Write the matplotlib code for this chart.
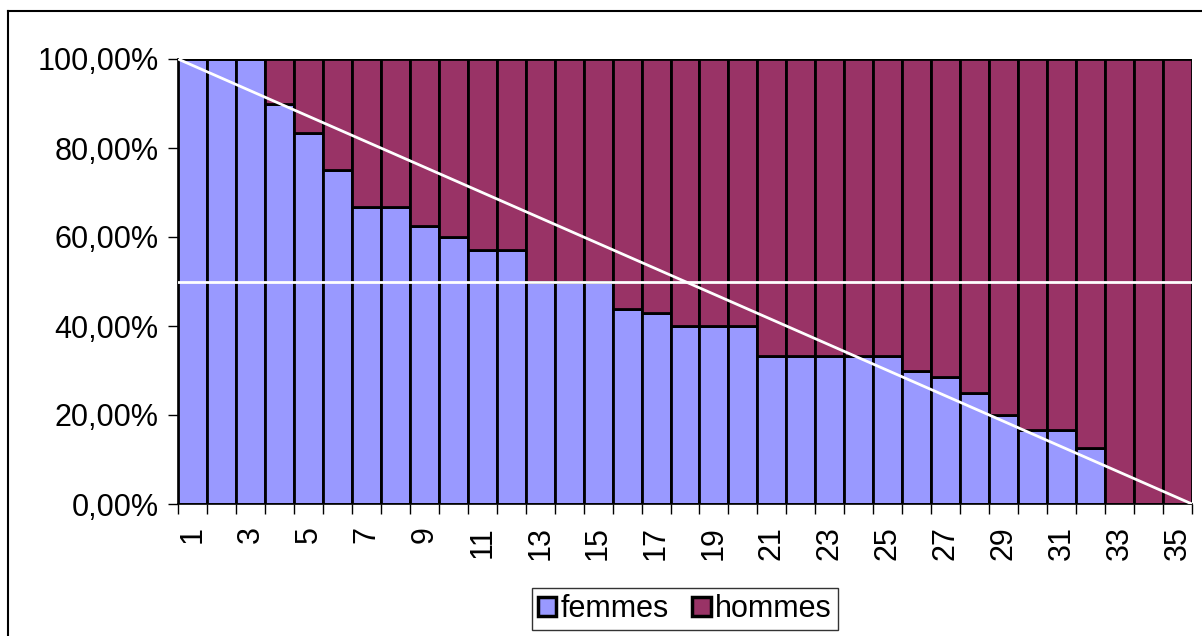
import matplotlib
matplotlib.use("Agg")
import matplotlib.pyplot as plt
from matplotlib.lines import Line2D
from matplotlib.ticker import FuncFormatter, FixedLocator
import numpy as np

# share of women / men per rank (percent)
rangs = list(range(1, 36))
femmes = [100, 100, 100, 90, 83.33, 75, 66.67, 66.67, 62.5, 60,
          57.14, 57.14, 50, 50, 50, 43.75, 42.86, 40, 40, 40,
          33.33, 33.33, 33.33, 33.33, 33.33, 30, 28.57, 25, 20, 16.67,
          16.67, 12.5, 0, 0, 0]
hommes = [100 - f for f in femmes]
x_labels = [str(r) if r % 2 == 1 else "" for r in rangs]

col_f = "#9999FF"
col_h = "#993366"

plt.rcParams["font.family"] = ["Liberation Sans", "DejaVu Sans"]

fig = plt.figure(figsize=(12.02, 6.36), dpi=100)
ax = fig.add_axes([178 / 1202, 1 - 504 / 636, (1192 - 178) / 1202, (504 - 59) / 636])

ax.bar(rangs, femmes, width=1.0, color=col_f, edgecolor="black", linewidth=2, label="femmes", zorder=2)
ax.bar(rangs, hommes, width=1.0, bottom=femmes, color=col_h, edgecolor="black", linewidth=2,
       label="hommes", zorder=2)

ax.set_xlim(0.5, 35.5)
ax.set_ylim(0, 100)

# white reference lines: parity and linear decline
x0, x1 = ax.get_xlim()
ax.plot([x0, x1], [50, 50], color="white", lw=2, zorder=3)
ax.plot([x0, x1], [100, 0], color="white", lw=2, zorder=3)

ax.yaxis.set_major_locator(FixedLocator([0, 20, 40, 60, 80, 100]))
ax.yaxis.set_major_formatter(FuncFormatter(lambda v, p: f"{v:.2f}".replace(".", ",") + "%"))
ax.tick_params(axis="y", length=7, width=1, labelsize=22, pad=7)

ax.set_xticks(rangs)
ax.set_xticklabels(x_labels, rotation=90, fontsize=22)
ax.set_xticks(np.arange(0.5, 36, 1), minor=True)
ax.tick_params(axis="x", which="major", length=0, pad=16)
ax.tick_params(axis="x", which="minor", length=7, width=1)

for s in ["top", "right"]:
    ax.spines[s].set_visible(False)
ax.spines["left"].set_linewidth(1.2)
ax.spines["bottom"].set_linewidth(1.2)

leg = fig.legend(loc="center", bbox_to_anchor=(685 / 1202, 1 - 609 / 636), ncol=2, fontsize=22,
                 frameon=True, fancybox=False, edgecolor="black", handlelength=0.6, handleheight=0.6,
                 handletextpad=0.15, columnspacing=0.75, borderpad=0.2, borderaxespad=0)
leg.get_frame().set_linewidth(1)
for h in leg.legend_handles:
    h.set_linewidth(2.5)

# chart area border (top and left visible)
fig.add_artist(Line2D([8 / 1202, 8 / 1202], [0, 1 - 11 / 636], color="black", lw=1.5, transform=fig.transFigure))
fig.add_artist(Line2D([8 / 1202, 1], [1 - 11 / 636, 1 - 11 / 636], color="black", lw=1.5, transform=fig.transFigure))

fig.savefig("out.png", dpi=100)
